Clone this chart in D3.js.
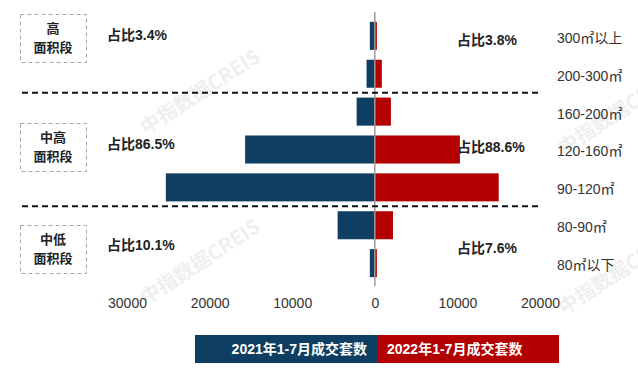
<!DOCTYPE html>
<html>
<head>
<meta charset="utf-8">
<script src="https://cdn.jsdelivr.net/npm/d3@7"></script>
<style>
  body { margin: 0; background: #fff; }
  svg { display: block; font-family: "Liberation Sans", Arial, "Noto Sans CJK SC", sans-serif; }
</style>
</head>
<body>
<script>
// data
var categories = ["300㎡以上", "200-300㎡", "160-200㎡", "120-160㎡", "90-120㎡", "80-90㎡", "80㎡以下"];
var sales2021 = [600, 1000, 2200, 15700, 25300, 4500, 600];
var sales2022 = [250, 850, 1950, 10300, 15000, 2200, 250];
var seriesNames = ["2021年1-7月成交套数", "2022年1-7月成交套数"];
var tickValues = [-30000, -20000, -10000, 0, 10000, 20000];
var groups = ["高", "中高", "中低"];
var shareLeft = ["占比3.4%", "占比86.5%", "占比10.1%"];
var shareRight = ["占比3.8%", "占比88.6%", "占比7.6%"];

var width = 638, height = 380;
var blue = "#0e3f63", red = "#b30000";

var svg = d3.select("body").append("svg")
  .attr("width", width)
  .attr("height", height);

// watermarks
var marks = [[200, 92], [200, 262], [618, 112], [618, 272]];
svg.selectAll("text.wm")
  .data(marks)
  .enter().append("text")
  .attr("class", "wm")
  .attr("transform", d => `translate(${d[0]},${d[1]}) rotate(-33)`)
  .attr("text-anchor", "middle")
  .attr("dy", "0.35em")
  .style("font-size", "20px")
  .style("font-weight", "bold")
  .style("font-family", "'Noto Sans CJK SC', sans-serif")
  .attr("fill", "#efefef")
  .text("中指数据CREIS");

var x = d3.scaleLinear()
  .domain([-30000, 20000])
  .range([127, 540]);

var y = d3.scaleBand()
  .domain(categories)
  .range([12, 287])
  .padding(0.26);

var rows = categories.map((c, i) => ({ cat: c, a: sales2021[i], b: sales2022[i] }));

// 2021 bars to the left
svg.selectAll("rect.left")
  .data(rows)
  .enter().append("rect")
  .attr("class", "left")
  .attr("x", d => x(-d.a))
  .attr("y", d => y(d.cat))
  .attr("width", d => x(0) - x(-d.a))
  .attr("height", y.bandwidth())
  .attr("fill", blue);

// 2022 bars to the right
svg.selectAll("rect.right")
  .data(rows)
  .enter().append("rect")
  .attr("class", "right")
  .attr("x", x(0))
  .attr("y", d => y(d.cat))
  .attr("width", d => x(d.b) - x(0))
  .attr("height", y.bandwidth())
  .attr("fill", red);

// centre line
svg.append("line")
  .attr("x1", x(0)).attr("x2", x(0))
  .attr("y1", 12).attr("y2", 286)
  .attr("stroke", "#9a9a9a")
  .attr("stroke-width", 1.5);

// category labels on the right
svg.selectAll("text.cat")
  .data(categories)
  .enter().append("text")
  .attr("class", "cat")
  .attr("x", 557)
  .attr("y", d => y(d) + y.bandwidth() / 2 + 2)
  .attr("dy", "0.35em")
  .style("font-size", "14px")
  .attr("fill", "#333")
  .text(d => d);

// x axis
var axis = svg.append("g")
  .attr("transform", "translate(0,292)")
  .call(d3.axisBottom(x).tickValues(tickValues).tickSize(0).tickPadding(6).tickFormat(d => Math.abs(d)));
axis.select(".domain").remove();
axis.selectAll("text")
  .style("font-size", "14px")
  .style("font-family", "'Liberation Sans', Arial, sans-serif")
  .attr("fill", "#333");

// dashed separators between groups
var seps = [1, 4].map(i => (y(categories[i]) + y.bandwidth() + y(categories[i + 1])) / 2);
svg.selectAll("line.sep")
  .data(seps)
  .enter().append("line")
  .attr("class", "sep")
  .attr("x1", 22).attr("x2", 538)
  .attr("y1", d => d).attr("y2", d => d)
  .attr("stroke", "#111")
  .attr("stroke-width", 2)
  .attr("stroke-dasharray", "6,4");

// group boxes + share texts
var boxY = [14, 123, 225];
var leftY = [35, 144, 245];
var rightY = [40, 147, 248];
groups.forEach(function(g, i) {
  var top = boxY[i];
  svg.append("rect")
    .attr("x", 20.5).attr("y", top + 0.5)
    .attr("width", 66).attr("height", 48)
    .attr("fill", "none")
    .attr("stroke", "#a6a6a6")
    .attr("stroke-dasharray", "4,3");
  svg.append("text")
    .attr("x", 53).attr("y", top + 19)
    .attr("text-anchor", "middle")
    .style("font-size", "13px")
    .style("font-weight", "bold")
    .style("font-family", "'Noto Sans CJK SC', sans-serif")
    .attr("fill", "#222")
    .text(g);
  svg.append("text")
    .attr("x", 53).attr("y", top + 38)
    .attr("text-anchor", "middle")
    .style("font-size", "13px")
    .style("font-weight", "bold")
    .style("font-family", "'Noto Sans CJK SC', sans-serif")
    .attr("fill", "#222")
    .text("面积段");

  svg.append("text")
    .attr("x", 107)
    .attr("y", leftY[i])
    .attr("dy", "0.35em")
    .style("font-size", "14px")
    .style("font-weight", "bold")
    .attr("fill", "#222")
    .text(shareLeft[i]);
  svg.append("text")
    .attr("x", 457)
    .attr("y", rightY[i])
    .attr("dy", "0.35em")
    .style("font-size", "14px")
    .style("font-weight", "bold")
    .attr("fill", "#222")
    .text(shareRight[i]);
});

// legend
var legend = svg.append("g");
legend.append("rect")
  .attr("x", 195).attr("y", 335).attr("width", 182).attr("height", 28)
  .attr("fill", blue);
legend.append("rect")
  .attr("x", 377).attr("y", 335).attr("width", 182).attr("height", 28)
  .attr("fill", red);
legend.append("text")
  .attr("x", 367).attr("y", 349).attr("dy", "0.35em")
  .attr("text-anchor", "end")
  .style("font-size", "14px").style("font-weight", "bold")
  .attr("fill", "#fff")
  .text(seriesNames[0]);
legend.append("text")
  .attr("x", 387).attr("y", 349).attr("dy", "0.35em")
  .style("font-size", "14px").style("font-weight", "bold")
  .attr("fill", "#fff")
  .text(seriesNames[1]);
</script>
</body>
</html>
